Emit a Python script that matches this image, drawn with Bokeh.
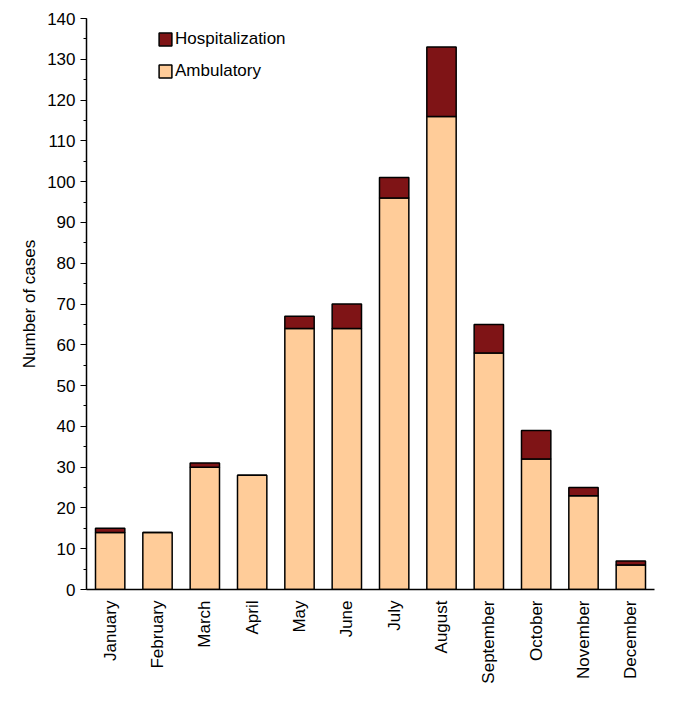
from bokeh.embed import file_html
from bokeh.models import Range1d, SingleIntervalTicker, Legend, LegendItem
from bokeh.plotting import figure
from bokeh.resources import INLINE

months = ["January", "February", "March", "April", "May", "June", "July",
          "August", "September", "October", "November", "December"]
ambulatory = [14, 14, 30, 28, 64, 64, 96, 116, 58, 32, 23, 6]
hospitalization = [1, 0, 1, 0, 3, 6, 5, 17, 7, 7, 2, 1]

FONT = "Liberation Sans"

p = figure(x_range=months, y_range=Range1d(0, 140),
           frame_width=568, frame_height=571,
           min_border_left=86, min_border_top=18, min_border_right=5,
           output_backend="svg", toolbar_location=None)

data = dict(month=months, Ambulatory=ambulatory, Hospitalization=hospitalization)
r = p.vbar_stack(["Ambulatory", "Hospitalization"], x="month", width=0.62,
                 source=data, fill_color=["#FFCC99", "#7F1416"],
                 line_color="black", line_width=1.5)

legend = Legend(items=[LegendItem(label="Hospitalization", renderers=[r[1]]),
                       LegendItem(label="Ambulatory", renderers=[r[0]])],
                location=(71, 508), border_line_color=None,
                background_fill_alpha=0, label_text_font=FONT,
                label_text_font_size="17px", label_text_color="black",
                glyph_width=16, glyph_height=16,
                label_standoff=2, spacing=12, margin=0, padding=0,
                label_height=16)
p.add_layout(legend)

p.xgrid.visible = False
p.ygrid.visible = False
p.outline_line_color = None

p.yaxis.ticker = SingleIntervalTicker(interval=10, num_minor_ticks=2)
p.yaxis.axis_label = "Number of cases"
p.yaxis.axis_label_text_font = FONT
p.yaxis.axis_label_text_font_style = "normal"
p.yaxis.axis_label_text_font_size = "17px"
p.yaxis.axis_label_text_color = "black"
p.yaxis.major_label_text_font = FONT
p.yaxis.major_label_text_font_size = "17px"
p.yaxis.major_tick_in = 0
p.yaxis.major_tick_out = 6
p.yaxis.minor_tick_in = 0
p.yaxis.minor_tick_out = 3

p.xaxis.major_label_orientation = 1.5708
p.xaxis.major_label_text_font = FONT
p.xaxis.major_label_text_font_size = "17px"
p.xaxis.major_tick_line_color = None

for ax in (p.xaxis, p.yaxis):
    ax.axis_line_color = "black"
    ax.axis_line_width = 1.5
    ax.major_label_text_color = "black"

open("out.html", "w").write(file_html(p, INLINE))
